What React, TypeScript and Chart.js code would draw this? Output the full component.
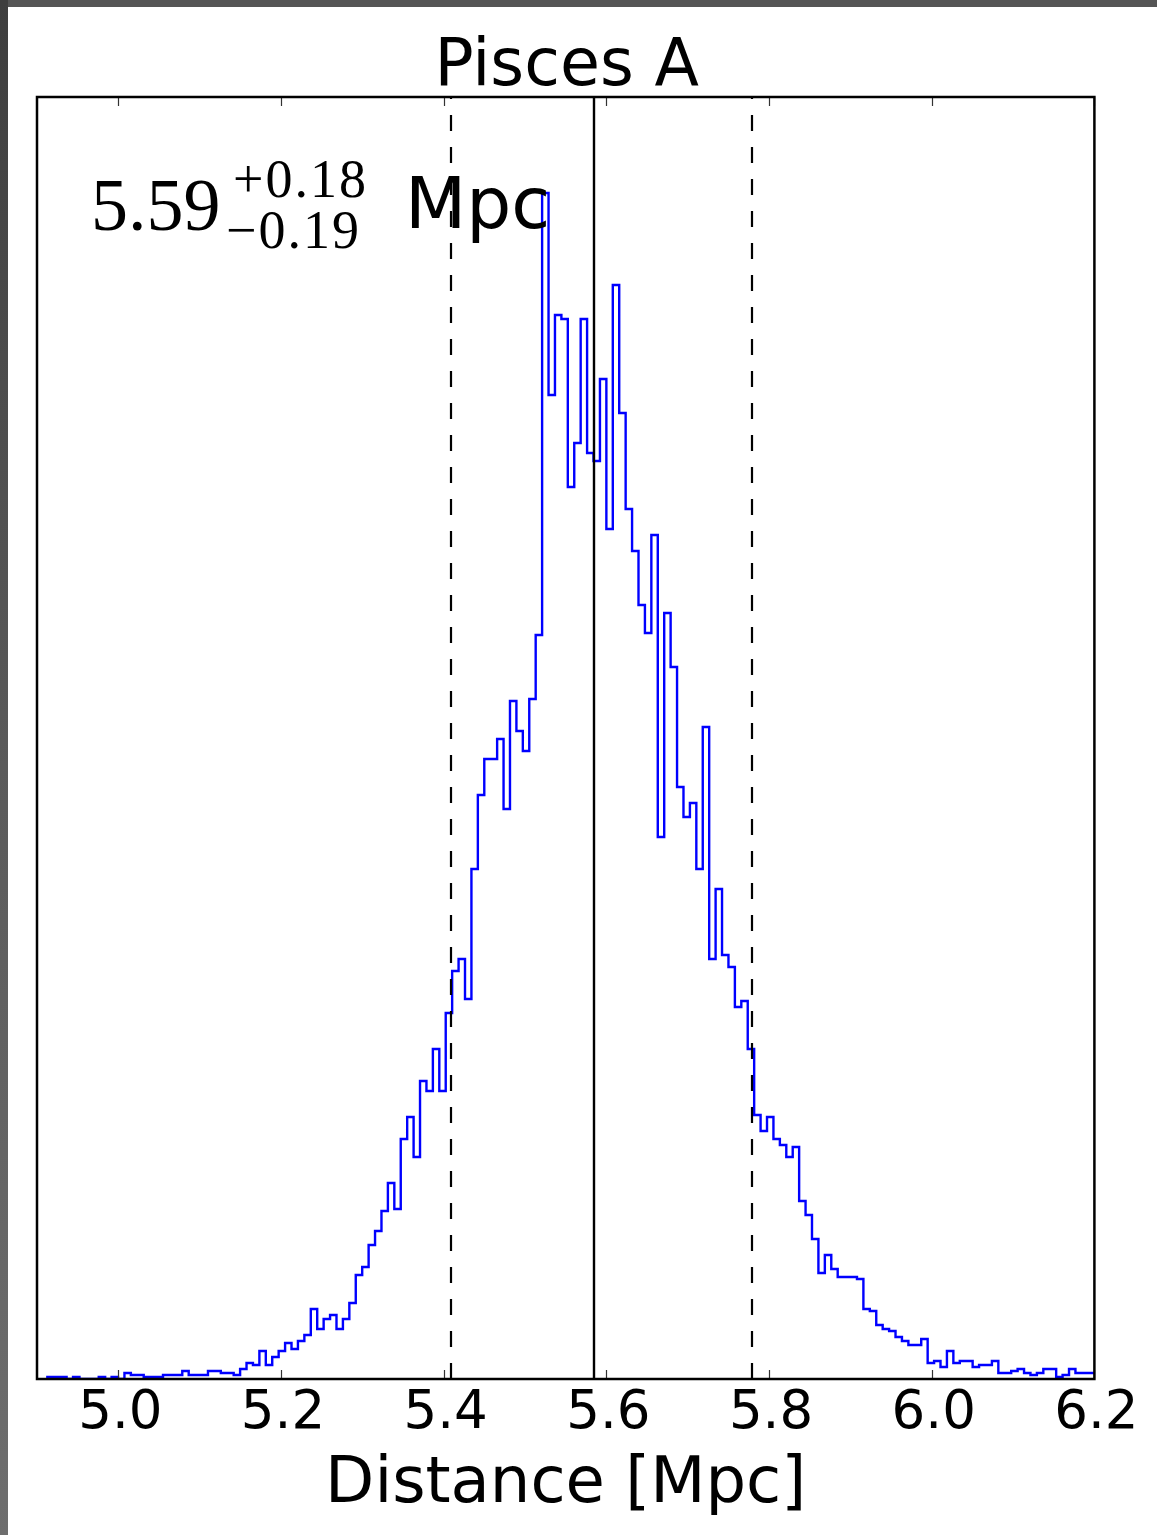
import React, { useEffect, useRef } from "react";
import { Chart, registerables } from "chart.js";

Chart.register(...registerables);

// Histogram of the distance posterior samples (counts per bin)
const BIN_START = 4.9127; // left edge of the first bin [Mpc]
const BIN_WIDTH = 0.0079; // bin width [Mpc]
const COUNTS = [
  1, 1, 1, 0, 1, 0, 0, 0, 1, 0,
  1, 0, 3, 2, 2, 1, 1, 1, 2, 2,
  2, 4, 2, 2, 2, 4, 4, 3, 3, 2,
  5, 8, 7, 14, 7, 11, 14, 18, 15, 19,
  22, 35, 25, 30, 32, 25, 30, 38, 52, 56,
  67, 74, 84, 98, 85, 120, 131, 111, 149, 144,
  165, 144, 183, 204, 210, 190, 255, 292, 310, 310,
  320, 285, 339, 324, 314, 340, 372, 593, 492, 532,
  530, 446, 468, 530, 463, 459, 500, 425, 547, 483,
  435, 414, 387, 373, 422, 271, 383, 356, 296, 281,
  288, 255, 326, 210, 245, 212, 206, 186, 189, 165,
  132, 124, 131, 120, 117, 111, 116, 89, 82, 70,
  53, 62, 55, 51, 51, 51, 50, 35, 34, 27,
  25, 24, 21, 19, 17, 17, 20, 8, 9, 6,
  14, 8, 9, 9, 6, 7, 7, 9, 3, 3,
  4, 5, 3, 2, 3, 5, 5, 1, 2, 5,
  3, 3, 3,
];

const X_MIN = 4.9;
const X_MAX = 6.2;
const X_TICKS = [5.0, 5.2, 5.4, 5.6, 5.8, 6.0, 6.2];
const Y_MAX = 641;

// 16th / 50th / 84th percentiles of the distance
const PCT_LOW = 5.409;
const PCT_MED = 5.585;
const PCT_HIGH = 5.779;

const TITLE = "Pisces A";
const X_LABEL = "Distance [Mpc]";
const EST_VALUE = "5.59";
const EST_PLUS = "+0.18";
const EST_MINUS = "\u22120.19";
const EST_UNIT = "Mpc";

const SANS = '"DejaVu Sans", "Bitstream Vera Sans", sans-serif';
const SERIF = '"Liberation Serif", "DejaVu Serif", serif';

const W = 1157;
const H = 1535;

// Step outline: each point sits on a bin's left edge with that bin's count
function histogramOutline() {
  const pts: { x: number; y: number }[] = [{ x: BIN_START, y: 0 }];
  COUNTS.forEach((c, i) => pts.push({ x: BIN_START + i * BIN_WIDTH, y: c }));
  const end = BIN_START + COUNTS.length * BIN_WIDTH;
  pts.push({ x: end, y: COUNTS[COUNTS.length - 1] });
  pts.push({ x: end, y: 0 });
  return pts;
}

const decorations = {
  id: "decorations",
  afterDatasetsDraw(chart: any) {
    const { ctx, chartArea } = chart;
    const { left, right, top, bottom } = chartArea;
    const xs = chart.scales.x;
    ctx.save();

    // percentile markers
    const vline = (v: number, dashed: boolean) => {
      const px = Math.round(xs.getPixelForValue(v));
      ctx.beginPath();
      ctx.setLineDash(dashed ? [16, 16] : []);
      ctx.lineDashOffset = 0;
      ctx.strokeStyle = "#000";
      ctx.lineWidth = dashed ? 2.2 : 2.4;
      ctx.moveTo(px, bottom);
      ctx.lineTo(px, top);
      ctx.stroke();
    };
    vline(PCT_LOW, true);
    vline(PCT_HIGH, true);
    vline(PCT_MED, false);
    ctx.setLineDash([]);

    // inward tick marks on top and bottom spines
    ctx.strokeStyle = "#333";
    ctx.lineWidth = 1.2;
    X_TICKS.forEach((v) => {
      const px = Math.round(xs.getPixelForValue(v)) + 0.5;
      ctx.beginPath();
      ctx.moveTo(px, bottom);
      ctx.lineTo(px, bottom - 9);
      ctx.moveTo(px, top);
      ctx.lineTo(px, top + 9);
      ctx.stroke();
    });

    // axes frame
    ctx.strokeStyle = "#000";
    ctx.lineWidth = 2.5;
    ctx.strokeRect(left, top, right - left, bottom - top);

    // estimate annotation
    ctx.fillStyle = "#000";
    ctx.textAlign = "left";
    ctx.textBaseline = "alphabetic";
    ctx.font = `74px ${SERIF}`;
    ctx.fillText(EST_VALUE, 91, 230);
    ctx.font = `54px ${SERIF}`;
    (ctx as any).letterSpacing = "2px";
    ctx.fillText(EST_PLUS, 233, 197);
    ctx.fillText(EST_MINUS, 226, 248);
    (ctx as any).letterSpacing = "0px";
    ctx.font = `71px ${SANS}`;
    ctx.fillText(EST_UNIT, 405, 228);

    // title
    ctx.font = `65px ${SANS}`;
    ctx.textAlign = "center";
    ctx.fillText(TITLE, (left + right) / 2 + 1, 85);
    ctx.restore();
  },
};

export default function App() {
  const ref = useRef<HTMLCanvasElement | null>(null);

  useEffect(() => {
    if (!ref.current) return;
    const chart = new Chart(ref.current, {
      type: "line",
      data: {
        datasets: [
          {
            data: histogramOutline(),
            stepped: "before",
            borderColor: "#0000ff",
            borderWidth: 2.4,
            pointRadius: 0,
            fill: false,
            tension: 0,
          },
        ],
      },
      options: {
        animation: false,
        responsive: false,
        maintainAspectRatio: false,
        devicePixelRatio: 1,
        layout: { padding: { left: 37, right: 62.6, top: 97, bottom: 0 } },
        plugins: {
          legend: { display: false },
          tooltip: { enabled: false },
          title: { display: false },
        },
        scales: {
          x: {
            type: "linear",
            min: X_MIN,
            max: X_MAX,
            afterBuildTicks: (s: any) => {
              s.ticks = X_TICKS.map((v) => ({ value: v }));
            },
            afterFit: (s: any) => {
              s.height = H - 1379;
            },
            grid: { display: false, drawTicks: false },
            border: { display: false },
            ticks: {
              padding: 3,
              labelOffset: 2,
              color: "#000",
              autoSkip: false,
              maxRotation: 0,
              font: { family: SANS, size: 53, lineHeight: 1.2 },
              callback: (v: any) => Number(v).toFixed(1),
            },
            title: {
              display: true,
              text: X_LABEL,
              color: "#000",
              font: { family: SANS, size: 64, lineHeight: 1.2 },
              padding: { top: 0, bottom: 11 },
            },
          },
          y: { display: false, min: 0, max: Y_MAX },
        },
      },
      plugins: [decorations],
    });
    return () => chart.destroy();
  }, []);

  return (
    <div
      style={{
        position: "absolute",
        left: 0,
        top: 0,
        width: W,
        height: H,
        background: "#fff",
        overflow: "hidden",
      }}
    >
      <canvas
        ref={ref}
        width={W}
        height={H}
        style={{ position: "absolute", left: 0, top: 0, width: W, height: H }}
      />
      <div
        style={{
          position: "absolute",
          left: 0,
          top: 0,
          width: W,
          height: 7,
          background: "#555",
        }}
      />
      <div
        style={{
          position: "absolute",
          left: 0,
          top: 0,
          width: 8,
          height: H,
          background: "linear-gradient(to bottom, #3e3e3e, #5a5a5a 50%, #6e6e6e)",
        }}
      />
    </div>
  );
}
